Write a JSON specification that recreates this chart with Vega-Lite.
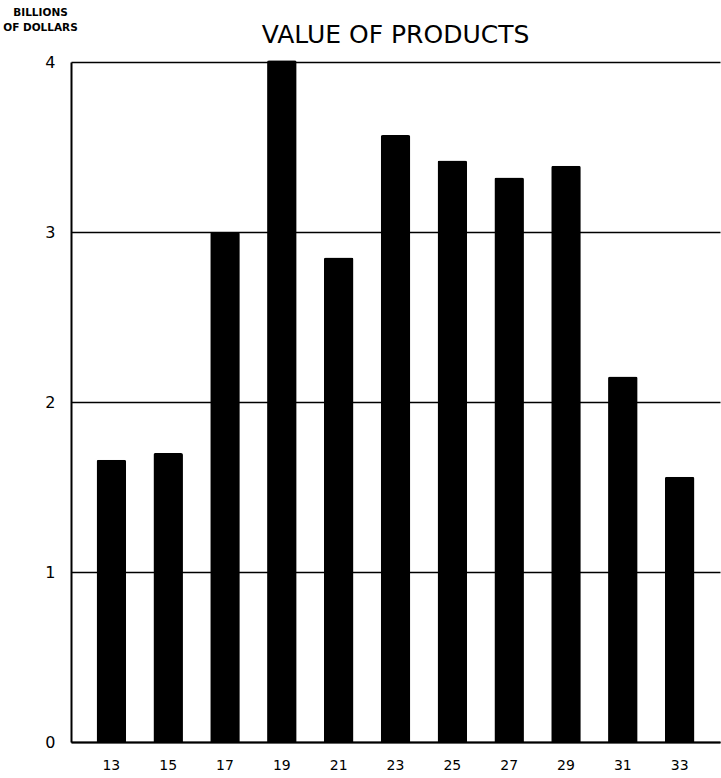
{
  "$schema": "https://vega.github.io/schema/vega-lite/v6.json",
  "autosize": {"type": "none"},
  "padding": {"left": 71, "top": 62, "right": 1, "bottom": 36},
  "width": 649,
  "height": 680,
  "background": "white",
  "title": {
    "text": "VALUE OF PRODUCTS",
    "anchor": "middle",
    "frame": "group",
    "font": "DejaVu Sans",
    "fontSize": 25,
    "fontWeight": "normal",
    "color": "black",
    "offset": 19,
    "dy": 60
  },
  "config": {
    "view": {"stroke": null},
    "font": "DejaVu Sans"
  },
  "data": {
    "values": [
      {"year": "13", "value": 1.66},
      {"year": "15", "value": 1.70},
      {"year": "17", "value": 3.00},
      {"year": "19", "value": 4.01},
      {"year": "21", "value": 2.85},
      {"year": "23", "value": 3.57},
      {"year": "25", "value": 3.42},
      {"year": "27", "value": 3.32},
      {"year": "29", "value": 3.39},
      {"year": "31", "value": 2.15},
      {"year": "33", "value": 1.56}
    ]
  },
  "mark": {"type": "bar", "color": "black", "cornerRadiusEnd": 2},
  "encoding": {
    "x": {
      "field": "year",
      "type": "ordinal",
      "scale": {"paddingInner": 0.48, "paddingOuter": 0.45},
      "axis": {
        "title": null,
        "labelAngle": 0,
        "labelFont": "DejaVu Sans",
        "labelFontSize": 14,
        "labelColor": "black",
        "labelPadding": 16,
        "ticks": false,
        "domainColor": "black",
        "domainWidth": 2,
        "grid": false
      }
    },
    "y": {
      "field": "value",
      "type": "quantitative",
      "scale": {"domain": [0, 4], "nice": false},
      "axis": {
        "values": [0, 1, 2, 3, 4],
        "format": "d",
        "title": ["BILLIONS", "OF DOLLARS"],
        "titleAngle": 0,
        "titleX": -31,
        "titleY": -55,
        "titleAlign": "center",
        "titleBaseline": "top",
        "titleFont": "DejaVu Sans",
        "titleFontSize": 10.5,
        "titleFontWeight": "bold",
        "titleColor": "black",
        "titleLineHeight": 15,
        "labelFont": "DejaVu Sans",
        "labelFontSize": 16,
        "labelColor": "black",
        "labelPadding": 16,
        "ticks": false,
        "domainColor": "black",
        "domainWidth": 2,
        "grid": true,
        "gridColor": "black",
        "gridWidth": 1.5,
        "gridOpacity": 1
      }
    }
  }
}
